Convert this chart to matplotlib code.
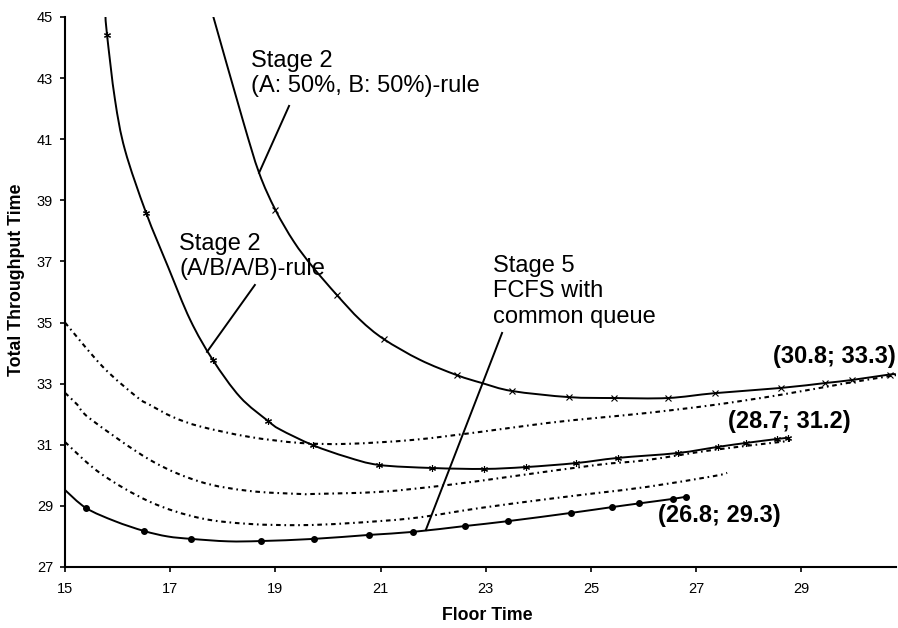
import matplotlib
matplotlib.use("Agg")
import matplotlib.pyplot as plt
from matplotlib.path import Path
from matplotlib.patches import PathPatch

plt.rcParams['font.family'] = ['Liberation Sans', 'DejaVu Sans']

# Stage 2 (A: 50%, B: 50%)-rule, solid line with x markers
ab50_x = [17.81, 18.38, 18.69, 19.0, 19.35, 19.71, 20.17, 20.61, 21.06, 21.75, 22.45, 22.93,
          23.5, 24.58, 25.44, 26.46, 27.36, 28.61, 29.45, 29.96, 30.68, 30.8]
ab50_y = [45.07, 41.63, 39.9, 38.69, 37.65, 36.82, 35.9, 35.09, 34.46, 33.78, 33.28, 33.02,
          32.76, 32.56, 32.53, 32.53, 32.69, 32.86, 33.02, 33.12, 33.3, 33.3]
ab50_mx = [19.0, 20.17, 21.06, 22.45, 23.5, 24.58, 25.44, 26.46, 27.36, 28.61, 29.45, 29.96, 30.68]
ab50_my = [38.69, 35.9, 34.46, 33.28, 32.76, 32.56, 32.53, 32.53, 32.69, 32.86, 33.02, 33.12, 33.3]

# Stage 2 (A/B/A/B)-rule, solid line with star markers
abab_x = [15.77, 15.8, 15.95, 16.14, 16.54, 16.96, 17.38, 17.81, 18.33, 18.86, 19.09, 19.71,
          20.36, 20.97, 21.98, 22.97, 23.76, 24.71, 25.51, 26.65, 27.41, 27.95, 28.54, 28.75]
abab_y = [45.0, 44.4, 42.3, 40.65, 38.6, 36.82, 35.09, 33.78, 32.56, 31.78, 31.5, 30.99,
          30.6, 30.34, 30.24, 30.21, 30.27, 30.4, 30.57, 30.73, 30.93, 31.06, 31.19, 31.23]
abab_mx = [15.8, 16.54, 17.81, 18.86, 19.71, 20.97, 21.98, 22.97, 23.76, 24.71, 25.51, 26.65,
           27.41, 27.95, 28.54, 28.75]
abab_my = [44.4, 38.6, 33.78, 31.78, 30.99, 30.34, 30.24, 30.21, 30.27, 30.4, 30.57, 30.73,
           30.93, 31.06, 31.19, 31.23]

# Stage 5 FCFS with common queue, solid line with dots
fcfs_x = [15.0, 15.4, 15.95, 16.5, 16.95, 17.4, 18.1, 18.73, 19.73, 20.78, 21.62, 22.6,
          23.42, 24.62, 25.4, 25.91, 26.56, 26.8]
fcfs_y = [29.52, 28.93, 28.5, 28.18, 28.0, 27.92, 27.84, 27.85, 27.92, 28.05, 28.15, 28.34,
          28.5, 28.77, 28.96, 29.08, 29.23, 29.3]
fcfs_mx = [15.4, 16.5, 17.4, 18.73, 19.73, 20.78, 21.62, 22.6, 23.42, 24.62, 25.4, 25.91,
           26.56, 26.8]
fcfs_my = [28.93, 28.18, 27.92, 27.85, 27.92, 28.05, 28.15, 28.34, 28.5, 28.77, 28.96, 29.08,
           29.23, 29.3]

# dotted reference curves
d1_x = [15.0, 15.72, 16.37, 16.62, 17.05, 17.57, 18.5, 19.47, 20.36, 21.62, 22.89, 24.16,
        25.11, 26.06, 27.32, 28.59, 29.87, 30.8]
d1_y = [35.0, 33.55, 32.56, 32.3, 31.91, 31.6, 31.26, 31.06, 31.03, 31.16, 31.42, 31.71,
        31.88, 32.04, 32.3, 32.63, 33.02, 33.28]
d2_x = [15.0, 15.23, 15.48, 16.62, 17.57, 18.5, 19.47, 19.71, 20.99, 22.26, 23.52, 25.11,
        26.06, 27.32, 28.59, 28.75]
d2_y = [32.7, 32.32, 31.85, 30.5, 29.79, 29.49, 29.39, 29.39, 29.46, 29.68, 29.97, 30.34,
        30.5, 30.83, 31.09, 31.13]
d3_x = [15.0, 15.67, 16.62, 17.57, 18.5, 19.47, 20.36, 21.62, 22.89, 24.16, 25.11, 26.06,
        27.32, 27.59]
d3_y = [31.09, 30.07, 29.13, 28.6, 28.41, 28.37, 28.43, 28.6, 28.93, 29.22, 29.42, 29.62,
        29.97, 30.08]

x_ticks = [15, 17, 19, 21, 23, 25, 27, 29]
y_ticks = [27, 29, 31, 33, 35, 37, 39, 41, 43, 45]


def smooth_line(ax, xs, ys, **kw):
    # smoothed line like a spreadsheet "smoothed line": bezier segments through the points
    pts = list(zip(xs, ys))
    verts = [pts[0]]
    codes = [Path.MOVETO]
    n = len(pts)
    for i in range(n - 1):
        p0 = pts[i - 1] if i > 0 else pts[i]
        p1 = pts[i]
        p2 = pts[i + 1]
        p3 = pts[i + 2] if i + 2 < n else pts[i + 1]
        c1 = (p1[0] + (p2[0] - p0[0]) / 6, p1[1] + (p2[1] - p0[1]) / 6)
        c2 = (p2[0] - (p3[0] - p1[0]) / 6, p2[1] - (p3[1] - p1[1]) / 6)
        verts += [c1, c2, p2]
        codes += [Path.CURVE4] * 3
    ax.add_patch(PathPatch(Path(verts, codes), fill=False, **kw))


fig = plt.figure(figsize=(8.98, 6.28), dpi=100)
ax = fig.add_axes([65 / 898, 1 - 567 / 628, 831 / 898, 550 / 628])

dash = (0, (2.2, 1.8, 0.8, 1.8))
for dx, dy in [(d1_x, d1_y), (d2_x, d2_y), (d3_x, d3_y)]:
    smooth_line(ax, dx, dy, edgecolor='black', lw=1.5, linestyle=dash)

smooth_line(ax, ab50_x, ab50_y, edgecolor='black', lw=1.4)
ax.plot(ab50_mx, ab50_my, linestyle='none', marker='x', ms=4, mew=0.8, color='black')
smooth_line(ax, abab_x, abab_y, edgecolor='black', lw=1.4)
ax.plot(abab_mx, abab_my, linestyle='none', marker=(6, 2, 0), ms=5, mew=0.8, color='black')
smooth_line(ax, fcfs_x, fcfs_y, edgecolor='black', lw=1.4)
ax.plot(fcfs_mx, fcfs_my, linestyle='none', marker='o', ms=4, color='black')

# pointer lines
ax.plot([19.26, 18.69], [42.09, 39.9], color='black', lw=1.4)
ax.plot([18.61, 17.70], [36.23, 34.04], color='black', lw=1.4)
ax.plot([23.31, 21.86], [34.66, 28.21], color='black', lw=1.4)

ax.text(18.54, 43.92, "Stage 2\n(A: 50%, B: 50%)-rule", fontsize=17, ha='left', va='top')
ax.text(17.17, 37.93, "Stage 2\n(A/B/A/B)-rule", fontsize=17, ha='left', va='top')
ax.text(23.14, 37.21, "Stage 5\nFCFS with\ncommon queue", fontsize=17, ha='left', va='top')
ax.text(28.46, 34.25, "(30.8; 33.3)", fontsize=17, fontweight='bold', ha='left', va='top')
ax.text(27.6, 32.15, "(28.7; 31.2)", fontsize=17, fontweight='bold', ha='left', va='top')
ax.text(26.27, 29.05, "(26.8; 29.3)", fontsize=17, fontweight='bold', ha='left', va='top')

ax.set_xlim(15, 30.8)
ax.set_ylim(27, 45)
ax.set_xticks(x_ticks)
ax.set_yticks(y_ticks)
ax.spines['top'].set_visible(False)
ax.spines['right'].set_visible(False)
ax.spines['left'].set_linewidth(1.5)
ax.spines['bottom'].set_linewidth(1.5)
ax.tick_params(axis='both', direction='out', length=3.6, width=1.2, labelsize=10.5)
ax.tick_params(axis='x', pad=7.5)
ax.tick_params(axis='y', pad=5)

fig.text(487 / 898, 1 - 616 / 628, "Floor Time", fontsize=12.8, fontweight='bold',
         ha='center', va='center')
fig.text(17 / 898, 1 - 280 / 628, "Total Throughput Time", fontsize=12.8, fontweight='bold',
         ha='center', va='center', rotation=90)

fig.savefig("out.png", dpi=100)
